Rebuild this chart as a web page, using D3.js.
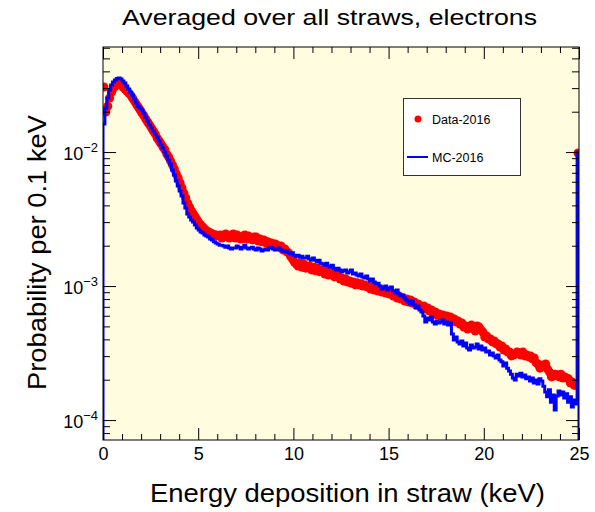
<!DOCTYPE html>
<html>
<head>
<meta charset="utf-8">
<script src="https://cdn.jsdelivr.net/npm/d3@7"></script>
<style>
  body { margin: 0; background: #ffffff; }
  svg { display: block; }
</style>
</head>
<body>
<svg id="chart" width="595" height="512"></svg>
<script>
/****************************************************************
    Data: probability per 0.1 keV bin, 250 bins from 0 to 25 keV
/****************************************************************/
const binWidth = 0.1
const binLow = d3.range(250).map(i => +(i * binWidth).toFixed(1))

// Data-2016 (red markers)
const dataValues = [
  3.06e-2, 1.99e-2, 2.20e-2, 2.53e-2, 2.80e-2, 3.00e-2, 3.11e-2, 3.19e-2, 3.22e-2, 3.16e-2,
  3.06e-2, 2.95e-2, 2.85e-2, 2.76e-2, 2.66e-2, 2.53e-2, 2.40e-2, 2.28e-2, 2.17e-2, 2.06e-2,
  1.95e-2, 1.86e-2, 1.76e-2, 1.67e-2, 1.59e-2, 1.51e-2, 1.43e-2, 1.36e-2, 1.27e-2, 1.21e-2,
  1.15e-2, 1.09e-2, 1.04e-2, 9.66e-3, 9.18e-3, 8.57e-3, 8.00e-3, 7.47e-3, 6.86e-3, 6.40e-3,
  5.87e-3, 5.39e-3, 4.94e-3, 4.54e-3, 4.16e-3, 3.88e-3, 3.63e-3, 3.45e-3, 3.28e-3, 3.11e-3,
  2.95e-3, 2.85e-3, 2.75e-3, 2.66e-3, 2.58e-3, 2.53e-3, 2.49e-3, 2.45e-3, 2.40e-3, 2.40e-3,
  2.36e-3, 2.40e-3, 2.28e-3, 2.40e-3, 2.45e-3, 2.32e-3, 2.28e-3, 2.40e-3, 2.45e-3, 2.28e-3,
  2.40e-3, 2.28e-3, 2.24e-3, 2.36e-3, 2.40e-3, 2.24e-3, 2.36e-3, 2.24e-3, 2.21e-3, 2.32e-3,
  2.32e-3, 2.17e-3, 2.24e-3, 2.14e-3, 2.21e-3, 2.10e-3, 2.14e-3, 2.04e-3, 2.10e-3, 2.02e-3,
  2.06e-3, 2.02e-3, 1.95e-3, 1.99e-3, 1.86e-3, 1.89e-3, 1.80e-3, 1.77e-3, 1.67e-3, 1.59e-3,
  1.51e-3, 1.46e-3, 1.41e-3, 1.48e-3, 1.38e-3, 1.46e-3, 1.36e-3, 1.38e-3, 1.41e-3, 1.32e-3,
  1.38e-3, 1.30e-3, 1.36e-3, 1.28e-3, 1.30e-3, 1.32e-3, 1.23e-3, 1.30e-3, 1.21e-3, 1.23e-3,
  1.25e-3, 1.17e-3, 1.19e-3, 1.21e-3, 1.13e-3, 1.15e-3, 1.09e-3, 1.13e-3, 1.07e-3, 1.09e-3,
  1.05e-3, 1.07e-3, 1.02e-3, 1.06e-3, 1.02e-3, 1.04e-3, 1.00e-3, 1.02e-3, 9.85e-4, 1.00e-3,
  9.51e-4, 9.85e-4, 9.34e-4, 9.51e-4, 9.18e-4, 9.51e-4, 9.03e-4, 9.34e-4, 8.87e-4, 9.18e-4,
  8.72e-4, 8.87e-4, 8.42e-4, 8.57e-4, 8.14e-4, 8.42e-4, 8.00e-4, 8.14e-4, 7.74e-4, 8.00e-4,
  7.60e-4, 7.87e-4, 7.48e-4, 7.60e-4, 7.22e-4, 7.35e-4, 7.10e-4, 6.98e-4, 7.10e-4, 6.74e-4,
  6.86e-4, 6.52e-4, 6.63e-4, 6.30e-4, 6.41e-4, 6.08e-4, 6.19e-4, 5.98e-4, 6.08e-4, 5.88e-4,
  5.98e-4, 5.78e-4, 5.88e-4, 5.58e-4, 5.68e-4, 5.39e-4, 5.49e-4, 5.21e-4, 5.30e-4, 4.95e-4,
  5.03e-4, 4.78e-4, 4.95e-4, 5.12e-4, 4.86e-4, 4.62e-4, 5.03e-4, 4.95e-4, 4.70e-4, 4.54e-4,
  4.17e-4, 4.24e-4, 4.03e-4, 4.03e-4, 3.83e-4, 3.89e-4, 3.70e-4, 3.70e-4, 3.51e-4, 3.57e-4,
  3.33e-4, 3.39e-4, 3.22e-4, 3.22e-4, 3.01e-4, 3.06e-4, 3.11e-4, 3.22e-4, 3.16e-4, 3.06e-4,
  3.22e-4, 3.01e-4, 3.06e-4, 2.96e-4, 3.01e-4, 2.86e-4, 2.91e-4, 2.67e-4, 2.62e-4, 2.44e-4,
  2.57e-4, 2.57e-4, 2.62e-4, 2.40e-4, 2.28e-4, 2.10e-4, 2.13e-4, 2.20e-4, 2.17e-4, 2.10e-4,
  2.20e-4, 2.06e-4, 2.10e-4, 2.06e-4, 2.03e-4, 1.89e-4, 1.92e-4, 1.82e-4, 1.82e-4, 9.83e-3
]

// MC-2016 (blue histogram line)
const mcValues = [
  1.62e-2, 2.13e-2, 2.53e-2, 2.90e-2, 3.16e-2, 3.33e-2, 3.45e-2, 3.54e-2, 3.57e-2, 3.51e-2,
  3.39e-2, 3.28e-2, 3.11e-2, 2.95e-2, 2.80e-2, 2.66e-2, 2.49e-2, 2.32e-2, 2.20e-2, 2.13e-2,
  2.06e-2, 1.95e-2, 1.82e-2, 1.70e-2, 1.59e-2, 1.51e-2, 1.43e-2, 1.36e-2, 1.29e-2, 1.21e-2,
  1.13e-2, 1.07e-2, 1.00e-2, 9.34e-3, 8.72e-3, 8.14e-3, 7.34e-3, 6.74e-3, 6.08e-3, 5.57e-3,
  5.11e-3, 4.70e-3, 4.16e-3, 3.82e-3, 3.45e-3, 3.28e-3, 3.11e-3, 3.01e-3, 2.85e-3, 2.71e-3,
  2.62e-3, 2.53e-3, 2.49e-3, 2.40e-3, 2.36e-3, 2.32e-3, 2.24e-3, 2.21e-3, 2.14e-3, 2.10e-3,
  2.06e-3, 2.02e-3, 2.02e-3, 1.99e-3, 1.95e-3, 1.99e-3, 1.92e-3, 1.89e-3, 1.92e-3, 1.92e-3,
  1.99e-3, 1.95e-3, 1.89e-3, 1.95e-3, 2.02e-3, 1.92e-3, 1.89e-3, 1.92e-3, 1.95e-3, 1.89e-3,
  1.86e-3, 1.92e-3, 1.89e-3, 1.83e-3, 1.86e-3, 1.89e-3, 1.86e-3, 1.92e-3, 1.95e-3, 1.89e-3,
  1.86e-3, 1.89e-3, 1.92e-3, 1.86e-3, 1.83e-3, 1.80e-3, 1.83e-3, 1.77e-3, 1.74e-3, 1.77e-3,
  1.70e-3, 1.67e-3, 1.70e-3, 1.64e-3, 1.67e-3, 1.62e-3, 1.62e-3, 1.67e-3, 1.59e-3, 1.56e-3,
  1.62e-3, 1.56e-3, 1.51e-3, 1.56e-3, 1.48e-3, 1.46e-3, 1.43e-3, 1.48e-3, 1.41e-3, 1.38e-3,
  1.43e-3, 1.36e-3, 1.32e-3, 1.36e-3, 1.32e-3, 1.28e-3, 1.30e-3, 1.32e-3, 1.25e-3, 1.28e-3,
  1.32e-3, 1.23e-3, 1.25e-3, 1.21e-3, 1.19e-3, 1.23e-3, 1.17e-3, 1.15e-3, 1.19e-3, 1.13e-3,
  1.09e-3, 1.13e-3, 1.07e-3, 1.04e-3, 1.05e-3, 1.00e-3, 9.51e-4, 9.68e-4, 1.00e-3, 9.34e-4,
  9.68e-4, 9.85e-4, 9.18e-4, 8.87e-4, 9.34e-4, 8.72e-4, 8.42e-4, 8.57e-4, 8.14e-4, 7.87e-4,
  7.60e-4, 7.35e-4, 7.74e-4, 7.22e-4, 6.86e-4, 7.10e-4, 6.63e-4, 6.41e-4, 5.98e-4, 5.39e-4,
  5.78e-4, 5.58e-4, 5.88e-4, 5.39e-4, 5.21e-4, 5.49e-4, 5.30e-4, 5.39e-4, 5.58e-4, 5.21e-4,
  5.39e-4, 5.12e-4, 5.30e-4, 4.39e-4, 3.96e-4, 4.17e-4, 3.83e-4, 3.70e-4, 3.89e-4, 3.57e-4,
  3.76e-4, 3.45e-4, 3.33e-4, 3.63e-4, 3.45e-4, 3.51e-4, 3.70e-4, 3.39e-4, 3.57e-4, 3.33e-4,
  3.45e-4, 3.22e-4, 3.27e-4, 3.06e-4, 3.16e-4, 3.01e-4, 2.91e-4, 3.06e-4, 2.81e-4, 2.72e-4,
  2.53e-4, 2.67e-4, 2.44e-4, 2.32e-4, 2.20e-4, 2.06e-4, 1.99e-4, 2.20e-4, 2.13e-4, 2.24e-4,
  2.10e-4, 2.17e-4, 2.03e-4, 2.10e-4, 1.96e-4, 2.06e-4, 1.89e-4, 1.99e-4, 1.86e-4, 2.03e-4,
  1.96e-4, 1.79e-4, 1.62e-4, 1.49e-4, 1.68e-4, 1.36e-4, 1.54e-4, 1.19e-4, 1.51e-4, 1.65e-4,
  1.54e-4, 1.62e-4, 1.46e-4, 1.57e-4, 1.36e-4, 1.49e-4, 1.25e-4, 1.41e-4, 1.32e-4, 1.00e-2
]

const xMajorTicks = [0, 5, 10, 15, 20, 25]
const xMinorTicks = d3.range(0, 26, 1)
const yMajorTicks = [1e-4, 1e-3, 1e-2]
const yMajorExponents = ['\u22124', '\u22123', '\u22122']
const legendLabels = ['Data-2016', 'MC-2016']

/****************************************************************
    Layout and style settings
/****************************************************************/
const settings = {
  left: 103,
  right: 579,
  top: 47,
  bottom: 440,
  xMin: 0,
  xMax: 25,
  yMin: 7.1e-5,
  yMax: 6.08e-2,
  frameFill: '#fffcdf',
  fontFamily: '"Liberation Sans", Arial, Helvetica, sans-serif',
  majorTick: 12,
  minorTick: 6,
  dataColor: '#ff0000',
  mcColor: '#0000ff',
  markerRadius: 4.5,
  lineWidth: 3
}

const svg = d3.select('#chart')

svg.append('rect').attr('width', 595).attr('height', 512).attr('fill', '#ffffff')

const x = d3.scaleLinear()
  .domain([settings.xMin, settings.xMax])
  .range([settings.left, settings.right])

const y = d3.scaleLog()
  .domain([settings.yMin, settings.yMax])
  .range([settings.bottom, settings.top])

/****************************************************************
    Frame background
/****************************************************************/
svg.append('rect')
  .attr('x', settings.left)
  .attr('y', settings.top)
  .attr('width', settings.right - settings.left)
  .attr('height', settings.bottom - settings.top)
  .attr('fill', settings.frameFill)

svg.append('clipPath').attr('id', 'frameClip')
  .append('rect')
  .attr('x', settings.left)
  .attr('y', settings.top)
  .attr('width', settings.right - settings.left)
  .attr('height', settings.bottom - settings.top)

const plot = svg.append('g').attr('clip-path', 'url(#frameClip)')

/****************************************************************
    Data-2016 markers
/****************************************************************/
plot.append('g')
  .selectAll('circle')
  .data(dataValues)
  .join('circle')
  .attr('cx', (d, i) => x(binLow[i] + binWidth / 2))
  .attr('cy', d => y(d))
  .attr('r', settings.markerRadius)
  .attr('fill', settings.dataColor)

/****************************************************************
    MC-2016 histogram drawn as a step line
/****************************************************************/
let mcPath = d3.path()
mcPath.moveTo(x(binLow[0]), y(settings.yMin))
mcValues.forEach((v, i) => {
  mcPath.lineTo(x(binLow[i]), y(v))
  mcPath.lineTo(x(binLow[i] + binWidth), y(v))
})
mcPath.lineTo(x(settings.xMax), y(settings.yMin))

plot.append('path')
  .attr('d', mcPath.toString())
  .attr('fill', 'none')
  .attr('stroke', settings.mcColor)
  .attr('stroke-width', settings.lineWidth)
  .attr('stroke-linejoin', 'miter')

/****************************************************************
    Axes: ticks on all four sides, pointing inward
/****************************************************************/
const yMinorTicks = []
for (let e = -5; e <= -1; e++) {
  for (let k = 2; k <= 9; k++) {
    const v = k * Math.pow(10, e)
    if (v >= settings.yMin && v <= settings.yMax) yMinorTicks.push(v)
  }
}

function drawAxis(axis, transform) {
  const g = svg.append('g')
    .attr('transform', transform)
    .style('font-family', settings.fontFamily)
    .call(axis)
  g.select('.domain').remove()
  g.selectAll('line').attr('stroke', '#000').attr('stroke-width', 1)
  return g
}

const xMinor = xMinorTicks.filter(t => xMajorTicks.indexOf(t) < 0)

drawAxis(d3.axisBottom(x).tickValues(xMinor).tickSize(-settings.minorTick).tickFormat(''),
  `translate(0,${settings.bottom})`)
const xBottom = drawAxis(d3.axisBottom(x).tickValues(xMajorTicks).tickSize(-settings.majorTick).tickPadding(7).tickFormat(d3.format('d')),
  `translate(0,${settings.bottom})`)
xBottom.selectAll('text').attr('font-size', 18).attr('fill', '#000')

drawAxis(d3.axisTop(x).tickValues(xMinor).tickSize(-settings.minorTick).tickFormat(''),
  `translate(0,${settings.top})`)
drawAxis(d3.axisTop(x).tickValues(xMajorTicks).tickSize(-settings.majorTick).tickFormat(''),
  `translate(0,${settings.top})`)

drawAxis(d3.axisLeft(y).tickValues(yMinorTicks).tickSize(-7).tickFormat(''),
  `translate(${settings.left},0)`)
drawAxis(d3.axisLeft(y).tickValues(yMajorTicks).tickSize(-13).tickFormat(''),
  `translate(${settings.left},0)`)
drawAxis(d3.axisRight(y).tickValues(yMinorTicks).tickSize(-7).tickFormat(''),
  `translate(${settings.right},0)`)
drawAxis(d3.axisRight(y).tickValues(yMajorTicks).tickSize(-13).tickFormat(''),
  `translate(${settings.right},0)`)

// y tick labels with superscript exponents
const yLabels = svg.append('g').style('font-family', settings.fontFamily)
yMajorTicks.forEach((t, i) => {
  const label = yLabels.append('text')
    .attr('x', settings.left - 5)
    .attr('y', y(t) + 8)
    .attr('text-anchor', 'end')
    .attr('font-size', 18)
  label.append('tspan').text('10')
  label.append('tspan').attr('dy', -8).attr('font-size', 13).text(yMajorExponents[i])
})

/****************************************************************
    Frame border
/****************************************************************/
svg.append('rect')
  .attr('x', settings.left)
  .attr('y', settings.top)
  .attr('width', settings.right - settings.left)
  .attr('height', settings.bottom - settings.top)
  .attr('fill', 'none')
  .attr('stroke', '#000')
  .attr('stroke-width', 1)

/****************************************************************
    Titles (the reference text is slightly stretched horizontally)
/****************************************************************/
svg.append('text')
  .attr('x', 122)
  .attr('y', 25)
  .attr('textLength', 415)
  .attr('lengthAdjust', 'spacingAndGlyphs')
  .style('font-family', settings.fontFamily)
  .attr('font-size', 22)
  .text('Averaged over all straws, electrons')

svg.append('text')
  .attr('x', 150)
  .attr('y', 502)
  .attr('textLength', 395)
  .attr('lengthAdjust', 'spacingAndGlyphs')
  .style('font-family', settings.fontFamily)
  .attr('font-size', 26)
  .text('Energy deposition in straw (keV)')

svg.append('text')
  .attr('transform', 'translate(46,390) rotate(-90)')
  .attr('textLength', 275)
  .attr('lengthAdjust', 'spacingAndGlyphs')
  .style('font-family', settings.fontFamily)
  .attr('font-size', 26)
  .text('Probability per 0.1 keV')

/****************************************************************
    Legend
/****************************************************************/
const legend = svg.append('g').style('font-family', settings.fontFamily)
legend.append('rect')
  .attr('x', 403.5).attr('y', 98.5)
  .attr('width', 117).attr('height', 77)
  .attr('fill', '#ffffff')
  .attr('stroke', '#333')
  .attr('stroke-width', 1)

legend.append('circle')
  .attr('cx', 418).attr('cy', 119).attr('r', 3.5)
  .attr('fill', settings.dataColor)
legend.append('line')
  .attr('x1', 407).attr('x2', 428).attr('y1', 157).attr('y2', 157)
  .attr('stroke', settings.mcColor).attr('stroke-width', 2)

legend.selectAll('text.entry')
  .data(legendLabels)
  .join('text')
  .attr('class', 'entry')
  .attr('x', 432)
  .attr('y', (d, i) => i === 0 ? 123.5 : 161.5)
  .attr('font-size', 12.5)
  .text(d => d)
</script>
</body>
</html>
